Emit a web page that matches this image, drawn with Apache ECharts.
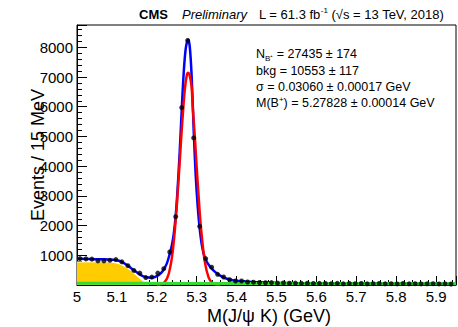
<!DOCTYPE html>
<html>
<head>
<meta charset="utf-8">
<script src="https://cdn.jsdelivr.net/npm/echarts@6/dist/echarts.min.js"></script>
<style>
html,body{margin:0;padding:0;background:#fff;}
#chart{width:458px;height:327px;}
</style>
</head>
<body>
<div id="chart"></div>
<script>
// data: bin centres (GeV), events per 15 MeV
var bin_x = [5.0075, 5.0225, 5.0375, 5.0525, 5.0675, 5.0825, 5.0975, 5.1125, 5.1275, 5.1425,
             5.1575, 5.1725, 5.1875, 5.2025, 5.2175, 5.2325, 5.2475, 5.2625, 5.2775, 5.2925,
             5.3075, 5.3225, 5.3375, 5.3525, 5.3675, 5.3825, 5.3975, 5.4125, 5.4275, 5.4425,
             5.4575, 5.4725, 5.4875, 5.5025, 5.5175, 5.5325, 5.5475, 5.5625, 5.5775, 5.5925,
             5.6075, 5.6225, 5.6375, 5.6525, 5.6675, 5.6825, 5.6975, 5.7125, 5.7275, 5.7425,
             5.7575, 5.7725, 5.7875, 5.8025, 5.8175, 5.8325, 5.8475, 5.8625, 5.8775, 5.8925,
             5.9075, 5.9225, 5.9375];
var bin_y = [890, 880, 870, 810, 810, 830, 855, 780, 650, 490,
             400, 250, 265, 400, 550, 1110, 2300, 5970, 8230, 4950,
             1975, 890, 600, 360, 270, 180, 135, 135, 100, 95,
             85, 75, 80, 65, 70, 60, 65, 55, 60, 50,
             55, 50, 45, 55, 40, 50, 45, 50, 40, 45,
             50, 40, 45, 35, 50, 40, 45, 35, 40, 45,
             35, 40, 30];

// total fit (blue)
var fit_x = [5.0, 5.02, 5.04, 5.06, 5.08, 5.095, 5.105, 5.115, 5.125, 5.135,
             5.145, 5.155, 5.165, 5.175, 5.185, 5.195, 5.205, 5.215, 5.225, 5.2325,
             5.2375, 5.2425, 5.2475, 5.2525, 5.2575, 5.2625, 5.2675, 5.2725, 5.2783, 5.2825,
             5.2875, 5.2925, 5.2975, 5.3025, 5.3075, 5.3125, 5.3175, 5.3225, 5.33, 5.34,
             5.35, 5.36, 5.37, 5.38, 5.39, 5.40, 5.42, 5.44, 5.47, 5.50,
             5.55, 5.60, 5.70, 5.80, 5.95];
var fit_y = [885, 878, 870, 864, 858, 845, 815, 755, 675, 575,
             475, 375, 300, 258, 245, 270, 340, 470, 720, 1050,
             1320, 1720, 2350, 3300, 4500, 5900, 7150, 7950, 8250, 8050,
             7000, 5200, 3700, 2650, 1900, 1380, 1050, 860, 680, 520,
             400, 305, 240, 195, 160, 140, 115, 100, 85, 72,
             62, 56, 50, 45, 40];

// signal (red)
var sig_x = [5.20, 5.21, 5.22, 5.23, 5.24, 5.25, 5.26, 5.265, 5.27, 5.275, 5.2783,
             5.282, 5.287, 5.29, 5.295, 5.30, 5.305, 5.31, 5.32, 5.33, 5.34, 5.35, 5.36];
var sig_y = [0, 20, 100, 380, 1140, 2630, 4700, 5700, 6550, 7050, 7140,
             7070, 6700, 6020, 5050, 3960, 2950, 2030, 810, 250, 60, 10, 0];

// partially reconstructed background (orange)
var prec_x = [5.0, 5.03, 5.06, 5.08, 5.09, 5.10, 5.11, 5.12, 5.13, 5.14, 5.15, 5.16, 5.17, 5.175, 5.18];
var prec_y = [775, 778, 775, 770, 760, 735, 690, 620, 535, 430, 310, 195, 95, 50, 0];

// combinatorial background (green)
var comb_x = [5.0, 5.95];
var comb_y = [55, 40];

var x_ticks = ['5', '5.1', '5.2', '5.3', '5.4', '5.5', '5.6', '5.7', '5.8', '5.9'];

function zip(xs, ys) {
    var out = [];
    for (var i = 0; i < xs.length; i++) {
        out.push([xs[i], ys[i]]);
    }
    return out;
}

var FONT = '"Liberation Sans", Arial, Helvetica, sans-serif';

var mychart = echarts.init(document.getElementById('chart'), null, {renderer: 'svg'});

var option = {
    animation: false,
    backgroundColor: '#fff',
    grid: {
        left: 77, right: 2, top: 25, bottom: 42,
        show: true, borderColor: '#000', borderWidth: 1
    },
    xAxis: {
        type: 'value',
        min: 5, max: 5.95, interval: 0.1,
        axisLine: {lineStyle: {color: '#000', width: 1}},
        axisTick: {inside: true, length: 9, lineStyle: {color: '#000'}},
        minorTick: {show: true, splitNumber: 5, length: 5, lineStyle: {color: '#000'}},
        splitLine: {show: false},
        axisLabel: {
            color: '#000', fontSize: 15, fontFamily: FONT, margin: 4,
            showMaxLabel: false,
            formatter: function (v) {
                var k = Math.round((v - 5) * 10);
                return x_ticks[k] || '';
            }
        }
    },
    yAxis: {
        type: 'value',
        min: 0, max: 8750, interval: 1000,
        axisLine: {lineStyle: {color: '#000', width: 1}},
        axisTick: {inside: true, length: 10, lineStyle: {color: '#000'}},
        minorTick: {show: true, splitNumber: 5, length: 5, lineStyle: {color: '#000'}},
        splitLine: {show: false},
        axisLabel: {
            color: '#000', fontSize: 15, fontFamily: FONT, margin: 4,
            showMinLabel: false, showMaxLabel: false,
            formatter: function (v) { return (v > 0 && v < 8750) ? String(v) : ''; }
        }
    },
    series: [
        {
            type: 'line', data: zip(prec_x, prec_y), showSymbol: false, smooth: 0.3,
            lineStyle: {color: '#ffffff', width: 1},
            areaStyle: {color: '#ffcc00', opacity: 1}
        },
        {
            type: 'line', data: zip(fit_x, fit_y), showSymbol: false, smooth: 0.3,
            lineStyle: {color: '#0000ff', width: 2.5}
        },
        {
            type: 'line', data: zip(sig_x, sig_y), showSymbol: false, smooth: 0.3,
            lineStyle: {color: '#ff0000', width: 2.5}
        },
        {
            type: 'line', data: zip(comb_x, comb_y), showSymbol: false,
            lineStyle: {color: '#33dd33', width: 3}
        },
        {
            type: 'scatter', data: zip(bin_x, bin_y), z: 10,
            symbol: 'circle', symbolSize: 5,
            itemStyle: {color: '#000'}
        }
    ],
    graphic: [
        {
            type: 'text', x: 139, y: 14,
            style: {text: 'CMS', font: 'bold 13px ' + FONT, fill: '#000', verticalAlign: 'middle'}
        },
        {
            type: 'text', x: 182, y: 14,
            style: {text: 'Preliminary', font: 'italic 13px ' + FONT, fill: '#000', verticalAlign: 'middle'}
        },
        {
            type: 'text', x: 259, y: 14,
            style: {
                text: 'L = 61.3 fb{sup|-1} (√s = 13 TeV, 2018)',
                font: '13px ' + FONT, fill: '#000', verticalAlign: 'middle', lineHeight: 16,
                rich: {sup: {fontSize: 8, fontFamily: FONT, lineHeight: 9, verticalAlign: 'top'}}
            }
        },
        {
            type: 'text', x: 256, y: 54,
            style: {
                text: 'N{sub|B⁺} = 27435 ± 174',
                font: '12.5px ' + FONT, fill: '#000', verticalAlign: 'middle', lineHeight: 16,
                rich: {sub: {fontSize: 8, fontFamily: FONT, lineHeight: 9, verticalAlign: 'bottom'}}
            }
        },
        {
            type: 'text', x: 256, y: 71,
            style: {text: 'bkg = 10553 ± 117', font: '12.5px ' + FONT, fill: '#000', verticalAlign: 'middle'}
        },
        {
            type: 'text', x: 256, y: 87,
            style: {text: 'σ = 0.03060 ± 0.00017 GeV', font: '12.5px ' + FONT, fill: '#000', verticalAlign: 'middle'}
        },
        {
            type: 'text', x: 256, y: 103,
            style: {
                text: 'M(B{sup|+}) = 5.27828 ± 0.00014 GeV',
                font: '12.5px ' + FONT, fill: '#000', verticalAlign: 'middle', lineHeight: 16,
                rich: {sup: {fontSize: 8, fontFamily: FONT, lineHeight: 9, verticalAlign: 'top'}}
            }
        },
        {
            type: 'text', x: 269, y: 316,
            style: {text: 'M(J/ψ K) (GeV)', font: '18px ' + FONT, fill: '#000', align: 'center', verticalAlign: 'middle'}
        },
        {
            type: 'text', x: 38, y: 155, rotation: Math.PI / 2,
            style: {text: 'Events / 15 MeV', font: '18px ' + FONT, fill: '#000', align: 'center', verticalAlign: 'middle'}
        }
    ]
};

mychart.setOption(option);
</script>
</body>
</html>
